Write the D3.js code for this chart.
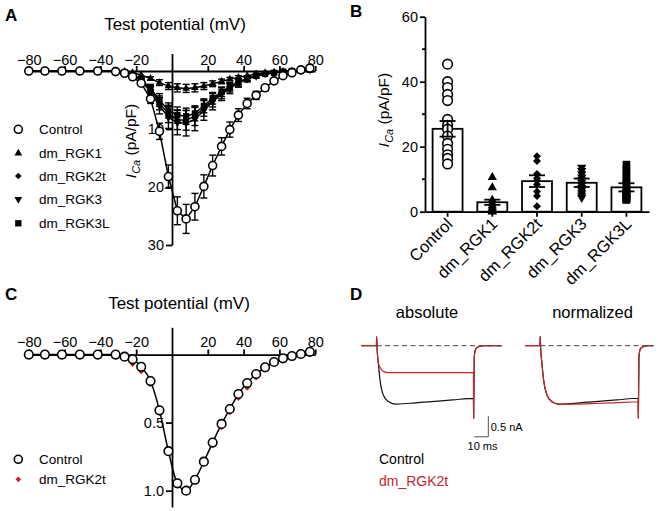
<!DOCTYPE html>
<html><head><meta charset="utf-8">
<script src="https://cdn.jsdelivr.net/npm/d3@7"></script>
<style>
body{margin:0;background:#fff}
svg{display:block;font-family:"Liberation Sans",Arial,sans-serif}
</style></head><body>
<svg id="fig" width="671" height="511"></svg>
<script>
// ---------- DATA ----------
// Panel A / C : test potentials (mV) as plotted
const voltages = [-80,-71,-61.5,-51.5,-41.5,-31.5,-26.5,-22,-17.2,-12,-7,-2,3,7.9,12.8,17.8,22.7,27.7,32.3,37.1,42,47,52,57,62,67,72,77];
const xTicksIV = [-80,-60,-40,-20,20,40,60,80];
// Panel A : I_Ca (pA/pF), plotted downward
const controlIV   = [0,0,0,0,0,0.1, 0.4,1.0,2.1,4.8,10.4,18.2, 24.1,25.5,23.4,19.9,16.3,13.0, 10.1,7.6,5.6,4.2,2.9,1.7, 0.8,0.3,-0.2,-0.5];
const controlSem  = [0,0,0,0,0,0.05, 0.1,0.2,0.4,0.8,1.4,2.0, 2.4,2.5,2.3,2.0,1.8,1.5, 1.3,1.1,0.9,0.7,0.5,0.4, 0.3,0.2,0.2,0.2];
const rgk1IV      = [0,0,0,0,0,0, 0.1,0.3,0.7,1.3,2.0,2.6, 2.9,3.0,2.9,2.6,2.2,1.8, 1.4,1.1,0.8,0.5,0.3,0.2, 0.1,0,-0.1,-0.2];
const rgk1Sem     = [0,0,0,0,0,0, 0.05,0.1,0.2,0.3,0.5,0.6, 0.7,0.7,0.7,0.6,0.5,0.4, 0.3,0.3,0.2,0.2,0.1,0.1, 0.1,0.1,0.1,0.1];
const rgk2tIV     = [0,0,0,0,0,0, 0.2,0.6,1.5,3.2,5.5,7.4, 8.4,8.5,7.8,6.4,5.0,3.8, 2.8,2.0,1.3,0.8,0.5,0.3, 0.1,0,-0.1,-0.2];
const rgk2tSem    = [0,0,0,0,0,0, 0.1,0.2,0.4,0.8,1.2,1.5, 1.7,1.7,1.6,1.4,1.2,1.0, 0.8,0.6,0.4,0.3,0.2,0.1, 0.1,0.1,0.1,0.1];
const rgk3IV      = [0,0,0,0,0,0, 0.2,0.7,1.7,3.6,6.0,8.0, 8.9,9.0,8.3,6.8,5.3,4.0, 3.0,2.1,1.4,0.9,0.5,0.3, 0.1,0,-0.1,-0.2];
const rgk3Sem     = [0,0,0,0,0,0, 0.1,0.2,0.5,0.9,1.4,1.9, 2.1,2.2,2.0,1.7,1.4,1.1, 0.9,0.7,0.5,0.3,0.2,0.1, 0.1,0.1,0.1,0.1];
const rgk3LIV     = [0,0,0,0,0,0, 0.2,0.6,1.5,3.0,5.0,6.8, 7.6,7.8,7.3,6.0,4.7,3.6, 2.7,1.9,1.3,0.8,0.5,0.3, 0.1,0,-0.1,-0.2];
const rgk3LSem    = [0,0,0,0,0,0, 0.1,0.2,0.4,0.7,1.1,1.3, 1.4,1.4,1.3,1.2,1.0,0.8, 0.6,0.5,0.3,0.2,0.1,0.1, 0.1,0.1,0.1,0.1];
const seriesNames = ["Control","dm_RGK1","dm_RGK2t","dm_RGK3","dm_RGK3L"];
const yTicksA = [10,20,30];
// Panel C : normalized I_Ca
const controlNorm = [0,0,0,0,0,0, 0.016,0.035,0.09,0.195,0.41,0.71, 0.946,1.0,0.92,0.787,0.647,0.51, 0.40,0.29,0.21,0.143,0.094,0.055, 0.028,0.011,-0.004,-0.02];
const rgk2tNorm   = [0,0,0,0,0,0, 0.02,0.07,0.125,0.22,0.43,0.72, 0.95,1.0,0.93,0.80,0.665,0.535, 0.425,0.32,0.245,0.17,0.11,0.065, 0.035,0.015,0,-0.015];
const yTicksC = [0.5,1.0];
// Panel B : peak I_Ca (pA/pF)
const categoriesB = ["Control","dm_RGK1","dm_RGK2t","dm_RGK3","dm_RGK3L"];
const meansB = [25.5, 2.9, 9.4, 8.9, 7.5];
const semsB  = [2.4, 0.8, 1.8, 1.3, 1.25];
const ptsControl = [45.4,40.0,38.2,36.1,34.2,28.4,26.6,25.4,23.3,21.0,19.2,17.5,16.4,14.7];
const ptsRgk1    = [10.6,7.4,3.6,2.6,1.8,1.2,0.6,0.2,0];
const ptsRgk2t   = [17.1,15.6,11.6,10.3,9.6,8.4,6.2,4.8,1.7];
const ptsRgk3    = [13.6,12.6,11.6,10.6,9.8,9.0,8.2,7.4,6.6,5.8,5.0,4.3];
const ptsRgk3L   = [14.5,13.2,12.0,10.8,9.6,8.6,7.6,6.8,6.0,5.3,4.7,4.2,3.8,3.6,4.0,4.4,5.0,5.6];
const yTicksB = [0,20,40,60];
const yMinorB = [10,30,50];
// Panel D : current traces (time in ms, current in nA / normalized)
const timeAbs  = [0,10.9,11.1,11.4,12.3,13.5,15.8,19.4,24.1,35,50,65,79.7,79.9,80.3,80.9,82,84,87,100];
const ctrlAbs  = [0,0,0.22,-0.05,-0.42,-0.83,-1.19,-1.35,-1.41,-1.39,-1.35,-1.31,-1.27,-1.75,-0.3,-0.12,-0.05,-0.02,0,0];
const rgkAbs   = [0,0,0.22,-0.05,-0.42,-0.52,-0.62,-0.65,-0.65,-0.65,-0.65,-0.65,-0.65,-1.75,-0.3,-0.12,-0.05,-0.02,0,0];
const timeNorm = [0,10.6,10.8,11.1,12.0,13.2,15.5,19.1,23.8,35,50,65,80.2,80.4,80.8,81.4,82.4,84.4,87,91];
const ctrlNormTr = [0,0,0.16,-0.04,-0.30,-0.59,-0.84,-0.96,-1,-0.986,-0.957,-0.929,-0.90,-1.24,-0.21,-0.085,-0.035,-0.014,0,0];
const rgkNormTr  = [0,0,0.16,-0.04,-0.30,-0.59,-0.84,-0.96,-1,-1.0,-0.99,-0.975,-0.96,-1.24,-0.21,-0.085,-0.035,-0.014,0,0];

// ---------- DRAWING ----------
const svg = d3.select("#fig");
const RED = "#c4262c";
const AX = 1.8;

function styleAxis(g, fs){
  g.attr("font-size", null).attr("font-family", null);
  g.selectAll("path.domain").attr("stroke","#000").attr("stroke-width",AX);
  g.selectAll(".tick line").attr("stroke","#000").attr("stroke-width",AX);
  g.selectAll(".tick text").attr("font-size",fs).attr("fill","#000");
}
const markers = {
  "Control": null,
  "dm_RGK1":  {type:d3.symbolTriangle, size:26, rot:0},
  "dm_RGK2t": {type:d3.symbolSquare, size:22, rot:45},
  "dm_RGK3":  {type:d3.symbolTriangle, size:26, rot:180},
  "dm_RGK3L": {type:d3.symbolSquare, size:40, rot:0}
};
function drawMarker(g, name, x, y, scale){
  scale = scale || 1;
  if(name === "Control"){
    g.append("circle").attr("cx",x).attr("cy",y).attr("r",4*scale)
      .attr("fill","#fff").attr("stroke","#000").attr("stroke-width",1.6);
  } else {
    const m = markers[name];
    g.append("path").attr("d", d3.symbol().type(m.type).size(m.size*scale*scale)())
      .attr("transform",`translate(${x},${y}) rotate(${m.rot})`).attr("fill","#000");
  }
}

// panel letters
[["A",5,21],["B",350,17],["C",5,300],["D",350,300]].forEach(([t,x,y])=>{
  svg.append("text").attr("x",x).attr("y",y).attr("font-size",17).attr("font-weight","bold").text(t);
});

// ===== Panel A =====
const xA = d3.scaleLinear().domain([-80,80]).range([28.8,315.2]);
const yA = d3.scaleLinear().domain([-3,30]).range([53.6,245]);
const gA = svg.append("g");
gA.append("text").attr("x",175).attr("y",30).attr("text-anchor","middle").attr("font-size",17).text("Test potential (mV)");
const axAx = gA.append("g").attr("transform",`translate(0,${yA(0)})`)
  .call(d3.axisTop(xA).tickValues(xTicksIV).tickSize(5).tickPadding(1).tickSizeOuter(0).tickFormat(d3.format("d")));
styleAxis(axAx,14.5);
const axAy = gA.append("g").attr("transform",`translate(${xA(0)},0)`)
  .call(d3.axisLeft(yA).tickValues(yTicksA).tickSize(6).tickPadding(2).tickSizeOuter(0));
styleAxis(axAy,14.5);
const yLabA = gA.append("text").attr("transform","translate(136,141) rotate(-90)").attr("text-anchor","middle").attr("font-size",15.5);
yLabA.append("tspan").attr("font-style","italic").text("I");
yLabA.append("tspan").attr("font-style","italic").attr("font-size",11).attr("dy",4).text("Ca");
yLabA.append("tspan").attr("dy",-4).text(" (pA/pF)");

const seriesA = [
  {name:"dm_RGK1", v:rgk1IV, e:rgk1Sem},
  {name:"dm_RGK2t", v:rgk2tIV, e:rgk2tSem},
  {name:"dm_RGK3L", v:rgk3LIV, e:rgk3LSem},
  {name:"dm_RGK3", v:rgk3IV, e:rgk3Sem},
  {name:"Control", v:controlIV, e:controlSem}
];
const lineA = d3.line().x(d=>xA(d[0])).y(d=>yA(d[1]));
seriesA.forEach(s=>{
  const pts = voltages.map((v,i)=>[v,s.v[i],s.e[i]]);
  const g = gA.append("g");
  g.append("path").attr("d",lineA(pts)).attr("fill","none").attr("stroke","#000").attr("stroke-width",1.5);
  pts.forEach(p=>{
    if(p[2] >= 0.3){
      const x = xA(p[0]), y1 = yA(p[1]-p[2]), y2 = yA(p[1]+p[2]);
      g.append("line").attr("x1",x).attr("x2",x).attr("y1",y1).attr("y2",y2).attr("stroke","#000").attr("stroke-width",1.4);
      [y1,y2].forEach(yy=>g.append("line").attr("x1",x-3.5).attr("x2",x+3.5).attr("y1",yy).attr("y2",yy).attr("stroke","#000").attr("stroke-width",1.4));
    }
  });
  pts.forEach(p=>drawMarker(g, s.name, xA(p[0]), yA(p[1])));
});
// legend A
const legY = [129.3,153.3,176,199.3,223.3];
seriesNames.forEach((n,i)=>{
  drawMarker(gA, n, 18.3, legY[i]);
  gA.append("text").attr("x",39).attr("y",legY[i]+4.7).attr("font-size",13.5).text(n);
});

// ===== Panel C =====
const yC = d3.scaleLinear().domain([-0.2,1.12]).range([327.3,507]);
const gC = svg.append("g");
gC.append("text").attr("x",179).attr("y",308.5).attr("text-anchor","middle").attr("font-size",17).text("Test potential (mV)");
const axCx = gC.append("g").attr("transform",`translate(0,${yC(0)})`)
  .call(d3.axisTop(xA).tickValues(xTicksIV).tickSize(5).tickPadding(2.5).tickSizeOuter(0).tickFormat(d3.format("d")));
styleAxis(axCx,14.5);
const axCy = gC.append("g").attr("transform",`translate(${xA(0)},0)`)
  .call(d3.axisLeft(yC).tickValues(yTicksC).tickSize(6).tickPadding(2).tickSizeOuter(0).tickFormat(d3.format(".1f")));
styleAxis(axCy,14.5);
const lineC = d3.line().x(d=>xA(d[0])).y(d=>yC(d[1])).curve(d3.curveMonotoneX);
const ptsCr = voltages.map((v,i)=>[v,rgk2tNorm[i]]);
const ptsCc = voltages.map((v,i)=>[v,controlNorm[i]]);
ptsCr.forEach(p=>gC.append("path").attr("d",d3.symbol().type(d3.symbolSquare).size(16)())
  .attr("transform",`translate(${xA(p[0])},${yC(p[1])}) rotate(45)`).attr("fill",RED));
gC.append("path").attr("d",lineC(ptsCc)).attr("fill","none").attr("stroke","#000").attr("stroke-width",1.5);
ptsCc.forEach(p=>gC.append("circle").attr("cx",xA(p[0])).attr("cy",yC(p[1])).attr("r",4.3)
  .attr("fill","#fff").attr("stroke","#000").attr("stroke-width",1.6));
// legend C
gC.append("circle").attr("cx",18.3).attr("cy",459.3).attr("r",4).attr("fill","#fff").attr("stroke","#000").attr("stroke-width",1.6);
gC.append("text").attr("x",39).attr("y",464).attr("font-size",13.5).text("Control");
gC.append("path").attr("d",d3.symbol().type(d3.symbolSquare).size(16)()).attr("transform","translate(18.3,479.3) rotate(45)").attr("fill",RED);
gC.append("text").attr("x",39).attr("y",484).attr("font-size",13.5).text("dm_RGK2t");

// ===== Panel B =====
const xB = d3.scaleBand().domain(categoriesB).range([425,649]).paddingInner(0.33).paddingOuter(0.17);
const yB = d3.scaleLinear().domain([0,60]).range([211.7,16.7]);
const gB = svg.append("g");
const axBy = gB.append("g").attr("transform","translate(425,0)")
  .call(d3.axisLeft(yB).tickValues(yTicksB).tickSize(5).tickPadding(2).tickSizeOuter(0));
styleAxis(axBy,14.5);
gB.selectAll(".minor").data(yMinorB).join("line").attr("x1",422).attr("x2",425)
  .attr("y1",d=>yB(d)).attr("y2",d=>yB(d)).attr("stroke","#000").attr("stroke-width",AX);
const yLabB = gB.append("text").attr("transform","translate(389,110) rotate(-90)").attr("text-anchor","middle").attr("font-size",15.5);
yLabB.append("tspan").attr("font-style","italic").text("I");
yLabB.append("tspan").attr("font-style","italic").attr("font-size",11).attr("dy",4).text("Ca");
yLabB.append("tspan").attr("dy",-4).text(" (pA/pF)");
// bars
gB.selectAll(".bar").data(categoriesB).join("rect")
  .attr("x",d=>xB(d)).attr("width",xB.bandwidth())
  .attr("y",(d,i)=>yB(meansB[i])).attr("height",(d,i)=>yB(0)-yB(meansB[i]))
  .attr("fill","#fff").attr("stroke","#000").attr("stroke-width",AX);
// x axis
const axBx = gB.append("g").attr("transform",`translate(0,${yB(0)})`)
  .call(d3.axisBottom(xB).tickSize(5).tickSizeOuter(0).tickFormat(""));
styleAxis(axBx,14);
gB.selectAll(".xl").data(categoriesB).join("text")
  .attr("transform",d=>`translate(${xB(d)+xB.bandwidth()/2+2},${221}) rotate(-45)`)
  .attr("text-anchor","end").attr("dy","0.35em").attr("font-size",16.5).text(d=>d);
// points
const ptsB = [ptsControl, ptsRgk1, ptsRgk2t, ptsRgk3, ptsRgk3L];
categoriesB.forEach((c,i)=>{
  const cx = xB(c)+xB.bandwidth()/2;
  ptsB[i].forEach(v=>drawMarker(gB, c, cx, yB(v), 1.2));
});
// error bars
categoriesB.forEach((c,i)=>{
  const cx = xB(c)+xB.bandwidth()/2;
  const y1 = yB(meansB[i]-semsB[i]), y2 = yB(meansB[i]+semsB[i]);
  gB.append("line").attr("x1",cx).attr("x2",cx).attr("y1",y1).attr("y2",y2).attr("stroke","#000").attr("stroke-width",AX);
  [y1,y2].forEach(yy=>gB.append("line").attr("x1",cx-8).attr("x2",cx+8).attr("y1",yy).attr("y2",yy).attr("stroke","#000").attr("stroke-width",AX));
});

// ===== Panel D =====
const gD = svg.append("g");
gD.append("text").attr("x",427).attr("y",317.7).attr("text-anchor","middle").attr("font-size",16.5).text("absolute");
gD.append("text").attr("x",592.5).attr("y",317.7).attr("text-anchor","middle").attr("font-size",16.5).text("normalized");
const xDa = d3.scaleLinear().domain([0,100]).range([361,502]);
const yDa = d3.scaleLinear().domain([0,-1]).range([345.7,387.1]);
const xDn = d3.scaleLinear().domain([0,91]).range([525,653.3]);
const yDn = d3.scaleLinear().domain([0,-1]).range([345.7,404.1]);
function trace(xs, ys, t, v, color){
  const l = d3.line().x(d=>xs(d[0])).y(d=>ys(d[1])).curve(d3.curveMonotoneX);
  gD.append("path").attr("d",l(t.map((tt,i)=>[tt,v[i]]))).attr("fill","none").attr("stroke",color).attr("stroke-width",1.2);
}
trace(xDa,yDa,timeAbs,ctrlAbs,"#111");
trace(xDa,yDa,timeAbs,rgkAbs,RED);
trace(xDn,yDn,timeNorm,ctrlNormTr,"#111");
trace(xDn,yDn,timeNorm,rgkNormTr,RED);
gD.append("line").attr("x1",xDa(11)).attr("x2",xDa(100)).attr("y1",yDa(0)).attr("y2",yDa(0))
  .attr("stroke","#444").attr("stroke-width",1).attr("stroke-dasharray","5,3.5");
gD.append("line").attr("x1",xDn(10.7)).attr("x2",xDn(91)).attr("y1",yDn(0)).attr("y2",yDn(0))
  .attr("stroke","#444").attr("stroke-width",1).attr("stroke-dasharray","5,3.5");
// scale bar: 10 ms, 0.5 nA
const sbT = 90.3, sbI = -2.2;
gD.append("path").attr("d",`M${xDa(sbT-10)},${yDa(sbI)}H${xDa(sbT)}V${yDa(sbI+0.5)}`)
  .attr("fill","none").attr("stroke","#555").attr("stroke-width",1);
gD.append("text").attr("x",xDa(sbT)+2.5).attr("y",430.5).attr("font-size",11).text("0.5 nA");
gD.append("text").attr("x",482.5).attr("y",450).attr("text-anchor","middle").attr("font-size",11).text("10 ms");
gD.append("text").attr("x",379).attr("y",464).attr("font-size",14).attr("fill","#000").text("Control");
gD.append("text").attr("x",379).attr("y",485.5).attr("font-size",14).attr("fill",RED).text("dm_RGK2t");
</script>
</body></html>
